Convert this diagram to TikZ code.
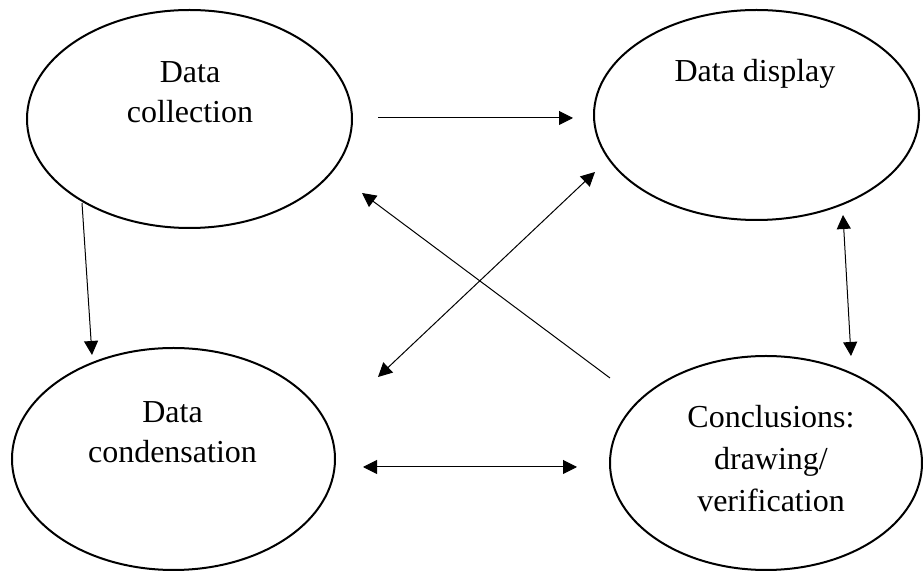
\documentclass[tikz,border=0pt]{standalone}
\usepackage{fontspec}
\setmainfont{Liberation Serif}
\usetikzlibrary{arrows.meta,shapes.geometric}
\begin{document}
\begin{tikzpicture}[x=0.5pt,y=-0.5pt,
  oval/.style={draw,line width=1pt,ellipse,inner sep=0pt},
  lbl/.style={anchor=base,align=center,font=\fontsize{16pt}{20pt}\selectfont,inner sep=0pt},
  conn/.style={line width=0.5pt,-{Triangle[length=7pt,width=7pt]}},
  dconn/.style={line width=0.5pt,{Triangle[length=7pt,width=7pt]}-{Triangle[length=7pt,width=7pt]}}]
\useasboundingbox (0,0) rectangle (923,571);
% ellipses
\node[oval,minimum width=162.5pt,minimum height=109pt] (dc) at (189.5,119) {};
\node[oval,minimum width=162.5pt,minimum height=105pt] (dd) at (756.5,115) {};
\node[oval,minimum width=161.5pt,minimum height=111pt] (dn) at (173.5,459) {};
\node[oval,minimum width=156pt,minimum height=107pt] (cv) at (766,463) {};
% texts (base anchor = baseline of last line)
\node[lbl] (dct) at (190,123) {Data\\collection};
\node[lbl] (ddt) at (755,82) {Data display};
\node[lbl] (dnt) at (172.5,463) {Data\\condensation};
\node[lbl,font=\fontsize{16pt}{21pt}\selectfont] (cvt) at (771,512) {Conclusions:\\drawing/\\verification};
% connector end points
\coordinate (a1s) at (378,118);
\coordinate (a1e) at (573,118);
\coordinate (a2s) at (82,203);
\coordinate (a2e) at (92,355);
\coordinate (a3s) at (595,172);
\coordinate (a3e) at (378,377);
\coordinate (a4s) at (610,378);
\coordinate (a4e) at (362,193);
\coordinate (a5s) at (843,215);
\coordinate (a5e) at (851,356);
\coordinate (a6s) at (363,467);
\coordinate (a6e) at (577,467);
% connectors
\draw[conn] (a1s) -- (a1e);
\draw[conn] (a2s) -- (a2e);
\draw[dconn] (a3s) -- (a3e);
\draw[conn] (a4s) -- (a4e);
\draw[dconn] (a5s) -- (a5e);
\draw[dconn] (a6s) -- (a6e);
\end{tikzpicture}
\end{document}
